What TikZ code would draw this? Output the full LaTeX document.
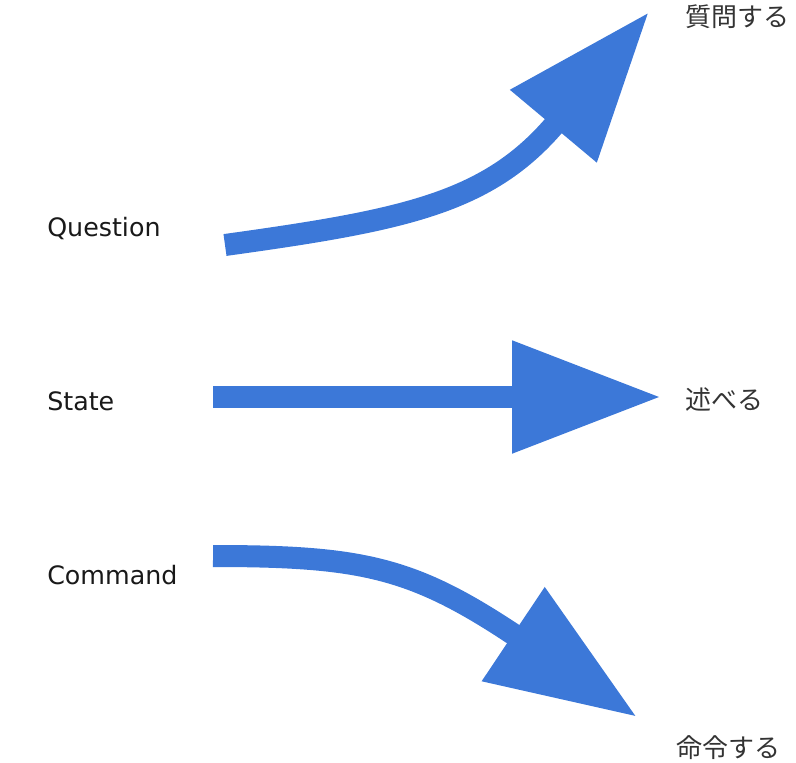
\documentclass[tikz,border=0pt]{standalone}
\usepackage{fontspec}
\setmainfont{DejaVu Sans}
\newfontfamily\jafont{Noto Sans CJK JP}
\usepackage{xcolor}
\usepackage{tikz}
\usetikzlibrary{arrows.meta}

\definecolor{arrowblue}{HTML}{3C78D8}

\begin{document}
\begin{tikzpicture}[
  x=0.75pt, y=-0.75pt,
  en/.style={anchor=base west, inner sep=0pt, font=\fontsize{19}{22}\selectfont, text=black!90},
  ja/.style={anchor=west, inner sep=0pt, font=\jafont\fontsize{19.5}{22}\selectfont, text=black!80},
  bigarrow/.style={draw=arrowblue, line width=16.5pt, -{Triangle[length=111.75pt, width=80.25pt]}}
]
  \useasboundingbox (0,0) rectangle (796,763);

  % Left labels
  \node[en] (q-lbl) at (47,237) {Question};
  \node[en] (s-lbl) at (47,410) {State};
  \node[en] (c-lbl) at (47,584) {Command};

  % Right labels
  \node[ja] (q-ja) at (685,17) {質問する};
  \node[ja] (s-ja) at (685,400) {述べる};
  \node[ja] (c-ja) at (676,748) {命令する};

  % Arrow ends
  \coordinate (q-start) at (225,245);
  \coordinate (q-tip) at (649,12);
  \coordinate (s-start) at (213,397);
  \coordinate (s-tip) at (661,397);
  \coordinate (c-start) at (213,556);
  \coordinate (c-tip) at (637,717);

  % Arrows
  \draw[bigarrow] (q-start) .. controls (405,220) and (489,203) .. (q-tip);
  \draw[bigarrow] (s-start) -- (s-tip);
  \draw[bigarrow] (c-start) .. controls (363,556) and (413.5,567.4) .. (c-tip);
\end{tikzpicture}
\end{document}
